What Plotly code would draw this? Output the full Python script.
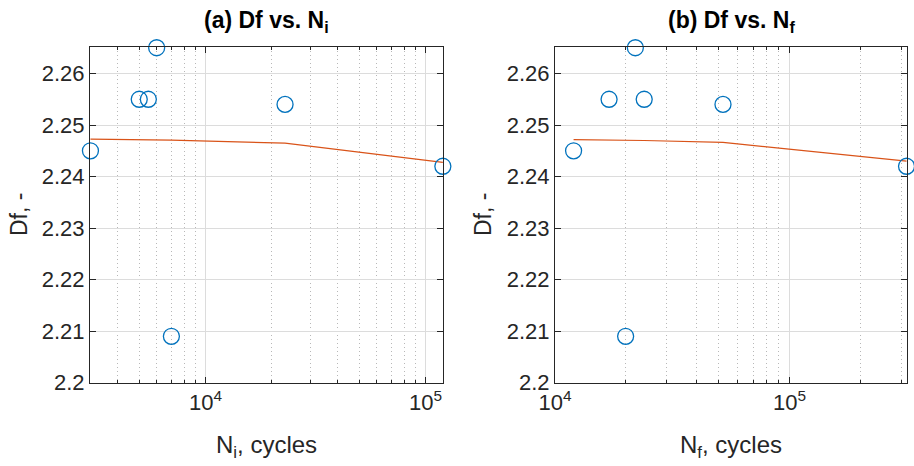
import math
import plotly.graph_objects as go

# ---- data ----
Ni = [3000, 5000, 5500, 6000, 7000, 23000, 120000]
Df_i = [2.245, 2.255, 2.255, 2.265, 2.209, 2.254, 2.242]
fit_i = [2.24725, 2.24717, 2.24715, 2.24713, 2.24709, 2.24648, 2.24274]

Nf = [12000, 17000, 20000, 22000, 24000, 52000, 315000]
Df_f = [2.245, 2.255, 2.209, 2.265, 2.255, 2.254, 2.242]
fit_f = [2.24717, 2.24710, 2.24706, 2.24703, 2.24700, 2.24662, 2.24301]

y_ticks = [2.2, 2.21, 2.22, 2.23, 2.24, 2.25, 2.26]
y_ticktext = ["2.2", "2.21", "2.22", "2.23", "2.24", "2.25", "2.26"]
x_ticks = [1e4, 1e5]
x_ticktext = ["10<sup>4</sup>", "10<sup>5</sup>"]

FONT = "Liberation Sans, Arial, Helvetica, sans-serif"
BLUE = "#0072BD"
ORANGE = "#D95319"
AX = "#262626"

fig = go.Figure()

for k, (xs, ys, fs) in enumerate([(Ni, Df_i, fit_i), (Nf, Df_f, fit_f)]):
    xa = "x" if k == 0 else "x2"
    ya = "y" if k == 0 else "y2"
    fig.add_trace(go.Scatter(x=xs, y=fs, mode="lines", xaxis=xa, yaxis=ya,
                             line=dict(color=ORANGE, width=1.2), showlegend=False))
    fig.add_trace(go.Scatter(x=xs, y=ys, mode="markers", xaxis=xa, yaxis=ya,
                             marker=dict(symbol="circle-open", size=16, color=BLUE,
                                         line=dict(width=1.3, color=BLUE)),
                             cliponaxis=False, showlegend=False))

common_x = dict(type="log", tickvals=x_ticks, ticktext=x_ticktext, ticks="inside",
                ticklen=6, tickcolor=AX, showline=True, linecolor=AX,
                linewidth=1, mirror="ticks", showgrid=True, gridcolor="#dcdcdc",
                gridwidth=1, zeroline=False, automargin=False,
                tickfont=dict(family=FONT, size=22, color=AX),
                minor=dict(dtick="D1", ticks="inside", ticklen=3, tickcolor=AX,
                           showgrid=True, gridcolor="#b8b8b8", griddash="1px,3px", gridwidth=1))
common_y = dict(range=[2.2, 2.2652], tickvals=y_ticks, ticktext=y_ticktext,
                ticks="inside", ticklen=6, tickcolor=AX, showline=True,
                linecolor=AX, linewidth=1, mirror="ticks", showgrid=True,
                gridcolor="#dcdcdc", gridwidth=1, zeroline=False, automargin=False,
                tickfont=dict(family=FONT, size=22, color=AX))

ydom = [(466 - 382.7) / 466, (466 - 46.7) / 466]
fig.update_layout(
    width=914, height=466,
    margin=dict(l=0, r=0, t=0, b=0, pad=0, autoexpand=False),
    paper_bgcolor="white", plot_bgcolor="white",
    xaxis=dict(common_x, domain=[90 / 914, 443.3 / 914],
               range=[math.log10(min(Ni)) - 0.002, math.log10(max(Ni)) + 0.002], anchor="y"),
    yaxis=dict(common_y, domain=ydom, anchor="x"),
    xaxis2=dict(common_x, domain=[555 / 914, 907 / 914],
                range=[4, math.log10(max(Nf)) + 0.002], anchor="y2"),
    yaxis2=dict(common_y, domain=ydom, anchor="x2"),
    font=dict(family=FONT, color=AX),
)

ann = []
for cx, lab, sub in [((90 + 443.3) / 2, "N", "i"), ((555 + 907) / 2, "N", "f")]:
    ann.append(dict(text="<b>(%s) Df vs. %s<sub>%s</sub></b>" % ("a" if sub == "i" else "b", lab, sub),
                    x=cx / 914, y=1 - 22 / 466, xref="paper", yref="paper", showarrow=False,
                    xanchor="center", yanchor="middle",
                    font=dict(size=23, family=FONT, color="black")))
    ann.append(dict(text="%s<sub>%s</sub>, cycles" % (lab, sub), x=cx / 914, y=1 - 446 / 466,
                    xref="paper", yref="paper", showarrow=False, xanchor="center",
                    yanchor="middle", font=dict(size=24, family=FONT, color=AX)))
for lx in [19, 483]:
    ann.append(dict(text="Df, -", x=lx / 914, y=1 - 215 / 466, textangle=-90,
                    xref="paper", yref="paper", showarrow=False, yanchor="middle",
                    xanchor="center", font=dict(size=23, family=FONT, color=AX)))
fig.update_layout(annotations=ann)

fig.write_html("out.html")
